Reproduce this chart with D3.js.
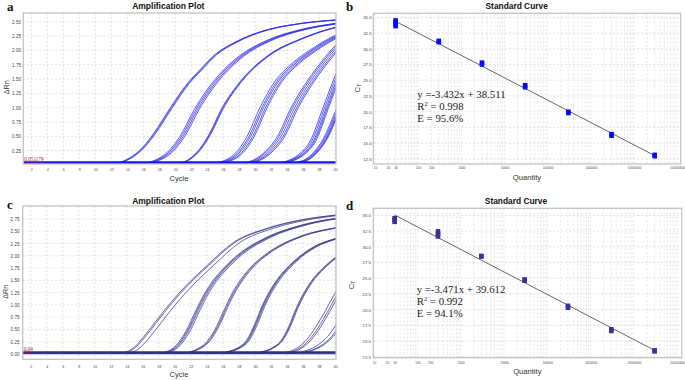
<!DOCTYPE html>
<html><head><meta charset="utf-8">
<script src="https://cdn.jsdelivr.net/npm/d3@7"></script>
<style>body{margin:0;background:#fff}svg{display:block}</style>
</head><body>
<svg id="chart" width="685" height="380"></svg>
<script>
// ---------------- DATA ----------------
const cycleTicks = [2,4,6,8,10,12,14,16,18,20,22,24,26,28,30,32,34,36,38,40];
const ampA_yTicks = [0.25,0.5,0.75,1.0,1.25,1.5,1.75,2.0,2.25,2.5];
const ampC_yTicks = [0.0,0.25,0.5,0.75,1.0,1.25,1.5,1.75,2.0,2.25,2.5,2.75];
const stdYTicks = [12.5,15,17.5,20,22.5,25,27.5,30,32.5,35];
const stdXTicks = [10,20,30,100,200,1000,10000,100000,1000000,10000000,100000000];

const ampA_threshold = 0.051179;
const ampC_threshold = 0.04;

// panel a: leftmost replicate of each dilution, [cycle, ΔRn]
const ampA_curves = [
  [[1,0.025],[12,0.028],[13,0.045],[14,0.1],[15,0.19],[16,0.32],[17.3,0.55],[19.4,1.0],[21.5,1.42],[23.1,1.66],[25,1.93],[27.3,2.13],[29.5,2.27],[31.5,2.36],[35.7,2.47],[40,2.53],[41,2.54]],
  [[1,0.025],[16,0.028],[17,0.06],[18,0.12],[19,0.22],[20.6,0.5],[22.4,0.97],[23.1,1.13],[25.4,1.56],[28,1.9],[31.4,2.17],[35.6,2.36],[40,2.47],[41,2.49]],
  [[1,0.022],[20,0.025],[21,0.05],[22,0.13],[23,0.27],[24.3,0.55],[25.8,0.98],[28.1,1.45],[31.5,1.9],[35.7,2.2],[40,2.4],[41,2.43]],
  [[1,0.022],[24,0.025],[25.5,0.05],[26.5,0.1],[27.5,0.2],[29.0,0.5],[30.6,1.0],[32.7,1.5],[34.2,1.72],[36.7,1.99],[40,2.26],[41,2.32]],
  [[1,0.02],[27.5,0.025],[29,0.05],[30,0.1],[31,0.2],[32.8,0.5],[34.5,1.0],[36.7,1.5],[38.3,1.8],[40,2.08],[41,2.2]],
  [[1,0.02],[32,0.025],[33.5,0.05],[34.5,0.1],[35.6,0.2],[36.9,0.42],[38.5,1.0],[40,1.55],[41,1.85]],
  [[1,0.02],[34,0.025],[35.3,0.05],[36.3,0.1],[37.3,0.22],[38.5,0.45],[40,0.92],[41,1.25]]
];
// cycle offsets of the replicates of each dilution (panel a)
const ampA_shifts = [[0,0.12,0.25],[0,0.2,0.4,0.6],[0,0.1,0.2],[0,0.25,0.45,0.7,0.9],[0,0.2,0.45,0.7,0.9],[0,0.2,0.4,0.55,0.7],[0,0.15,0.3,0.4,0.5]];
const ampA_ntc = [0.02,0.025,0.03];

// panel c
const ampC_curves = [
  [[1,0.015],[13,0.018],[14,0.045],[15,0.15],[16,0.33],[17.5,0.64],[19.5,1.05],[21.5,1.41],[24,1.8],[27.3,2.27],[31.5,2.56],[35.7,2.73],[40,2.83],[41,2.85]],
  [[1,0.015],[18,0.018],[19,0.05],[19.8,0.12],[20.5,0.24],[21.5,0.5],[22.6,0.88],[23.6,1.2],[24.7,1.48],[26,1.73],[27.5,1.97],[31.5,2.38],[35.7,2.62],[40,2.76],[41,2.78]],
  [[1,0.015],[21,0.018],[22,0.05],[23,0.12],[24,0.25],[25.2,0.56],[26.3,0.95],[27.2,1.25],[28.2,1.51],[29.8,1.82],[31.5,2.05],[35.7,2.4],[40,2.57],[41,2.6]],
  [[1,0.015],[25.5,0.018],[26.6,0.05],[27.8,0.12],[29,0.29],[30,0.62],[30.9,0.98],[31.8,1.27],[32.7,1.5],[34.8,1.88],[37.3,2.18],[40,2.35],[41,2.4]],
  [[1,0.015],[29.8,0.018],[31,0.05],[32.1,0.12],[33.2,0.26],[34.2,0.55],[35.2,0.95],[36.9,1.45],[38.5,1.75],[40,1.96],[41,2.08]],
  [[1,0.015],[33,0.018],[34.3,0.05],[35.5,0.15],[36.5,0.3],[37.6,0.55],[38.8,0.88],[40,1.24],[41,1.5]],
  [[1,0.015],[34.5,0.018],[36,0.05],[37.2,0.12],[38.4,0.25],[39.3,0.4],[40,0.56],[41,0.8]]
];
const ampC_shifts = [[0,0.2,0.8],[0,0.15,0.3,0.5],[0,0.15,0.3],[0,0.1,0.2,0.35],[0,0.1,0.2],[0,0.35,0.6],[0,0.5,0.7]];
const ampC_ntc = [0.005,0.012,0.02];

// panel b standard curve
const stdB_quantity = [30,30,30,30,300,300,3000,3000,30000,30000,300000,300000,3000000,3000000,30000000,30000000];
const stdB_ct = [34.5,34.2,33.9,33.6,31.25,31.05,27.8,27.5,24.2,23.9,20.0,19.8,16.45,16.2,13.15,12.95];
const stdB_equation = ["y =-3.432x + 38.511","0.998","E = 95.6%"];

// panel d standard curve
const stdD_quantity = [30,30,30,300,300,300,3000,3000,30000,30000,300000,300000,3000000,3000000,30000000,30000000];
const stdD_ct = [34.55,34.25,33.98,32.45,32.05,31.65,28.55,28.45,24.8,24.6,20.6,20.3,16.85,16.6,13.5,13.35];
const stdD_equation = ["y =-3.471x + 39.612","0.992","E = 94.1%"];

// ---------------- DRAWING ----------------
const svg = d3.select("#chart");
const SANS = "'Liberation Sans', Arial, sans-serif";
const SERIF = "'Liberation Serif', 'Times New Roman', serif";
const GRID = "#d6d6d6";

function styleAxis(sel, size){
  sel.select(".domain").remove();
  sel.selectAll("text").attr("font-size", size).attr("fill", "#444").attr("font-family", SANS);
}

function ampPanel(p){
  const x = d3.scaleLinear().domain([1,40]).range([p.left, p.right]);
  const y = d3.scaleLinear().domain(p.yDomain).range([p.bottom, p.top]);
  const g = svg.append("g");
  const id = "clip" + p.key;
  g.append("clipPath").attr("id", id).append("rect")
    .attr("x", p.left).attr("y", p.top).attr("width", p.right - p.left + 1).attr("height", p.bottom - p.top);
  // grid
  g.append("g").selectAll("line").data(cycleTicks).join("line")
    .attr("x1", d => x(d)).attr("x2", d => x(d)).attr("y1", p.top).attr("y2", p.bottom)
    .attr("stroke", GRID).attr("stroke-width", 0.7).attr("stroke-dasharray", "2,2");
  g.append("g").selectAll("line").data(p.yTicks).join("line")
    .attr("x1", p.left).attr("x2", p.right + 1).attr("y1", d => y(d)).attr("y2", d => y(d))
    .attr("stroke", GRID).attr("stroke-width", 0.7).attr("stroke-dasharray", "2,2");
  // axes
  g.append("g").attr("transform", `translate(0,${p.xLabelY})`)
    .call(d3.axisBottom(x).tickValues(cycleTicks).tickSize(0).tickPadding(0).tickFormat(d3.format("d")))
    .call(a => styleAxis(a, 3.6)).selectAll("text").attr("dy", "0.35em");
  g.append("g").attr("transform", `translate(${p.yLabelRight},0)`)
    .call(d3.axisLeft(y).tickValues(p.yTicks).tickSize(0).tickPadding(0).tickFormat(d3.format(".2f")))
    .call(a => styleAxis(a, 4.6));
  // curves
  const line = d3.line().x(d => x(d[0])).y(d => y(d[1])).curve(d3.curveMonotoneX);
  const cg = g.append("g").attr("clip-path", `url(#${id})`).attr("fill", "none");
  p.ntc.forEach(v => cg.append("path").attr("d", line([[1,v],[40.5,v]]))
    .attr("stroke", p.color).attr("stroke-width", 0.9));
  p.curves.forEach((pts, i) => p.shifts[i].forEach(s => {
    const pp = [[1, pts[0][1]]].concat(pts.slice(1).map(d => [d[0] + s, d[1]]));
    cg.append("path").attr("d", line(pp)).attr("stroke", p.color).attr("stroke-width", 0.85).attr("stroke-opacity", 0.9);
  }));
  cg.append("path").attr("d", line([[1,p.threshold],[40.5,p.threshold]]))
    .attr("stroke", p.thrColor).attr("stroke-width", 1.8);
  g.append("text").attr("x", p.left + 1).attr("y", y(p.threshold) - 1)
    .attr("font-size", 5.2).attr("font-family", SERIF).style("fill", "#a3123f")
    .attr("text-decoration", "underline").text(String(p.threshold));
  // frame
  g.append("rect").attr("x", p.left).attr("y", p.top).attr("width", p.right - p.left + 1).attr("height", p.bottom - p.top)
    .attr("fill", "none").attr("stroke", "#c4c4c4").attr("stroke-width", 1.3);
  // labels
  g.append("text").attr("x", p.titleX).attr("y", p.titleY).attr("text-anchor", "middle")
    .attr("font-family", SANS).attr("font-weight", "bold").attr("font-size", 8.5).style("fill", "#111").text("Amplification Plot");
  g.append("text").attr("x", p.xTitleX).attr("y", p.xTitleY).attr("text-anchor", "middle")
    .attr("font-family", SANS).attr("font-size", 7.6).style("fill", "#333").text("Cycle");
  g.append("text").attr("transform", `translate(${p.yTitleX},${p.yTitleY}) rotate(-90)`).attr("text-anchor", "middle")
    .attr("font-family", SANS).attr("font-size", 7.2).style("fill", "#333").text("ΔRn");
  g.append("text").attr("x", p.letterX).attr("y", p.letterY)
    .attr("font-family", SERIF).attr("font-weight", "bold").attr("font-size", 13).style("fill", "#111").text(p.letter);
}

function stdPanel(p){
  const x = d3.scaleLog().domain([10,1e8]).range([p.x10, p.x1e8]);
  const y = d3.scaleLinear().domain([12.5,35]).range([p.y125, p.y35]);
  const g = svg.append("g");
  // grid
  const minor = [];
  for (let e = 0; e <= 8; e++) for (let k = 1; k <= 9; k++) {
    const v = k * Math.pow(10, e);
    if (x(v) >= p.left && x(v) <= p.right) minor.push(v);
  }
  g.append("g").selectAll("line").data(minor).join("line")
    .attr("x1", d => x(d)).attr("x2", d => x(d)).attr("y1", p.top).attr("y2", p.bottom)
    .attr("stroke", GRID).attr("stroke-width", 0.6).attr("stroke-dasharray", "2,2");
  g.append("g").selectAll("line").data(stdYTicks).join("line")
    .attr("x1", p.left).attr("x2", p.right).attr("y1", d => y(d)).attr("y2", d => y(d))
    .attr("stroke", GRID).attr("stroke-width", 0.7).attr("stroke-dasharray", "2,2");
  // axes
  g.append("g").attr("transform", `translate(0,${p.xLabelY})`)
    .call(d3.axisBottom(x).tickValues(stdXTicks).tickSize(0).tickPadding(0).tickFormat(d => String(d)))
    .call(a => styleAxis(a, 3.1)).selectAll("text").attr("dy", "0.35em");
  g.append("g").attr("transform", `translate(${p.yLabelRight},0)`)
    .call(d3.axisLeft(y).tickValues(stdYTicks).tickSize(0).tickPadding(0).tickFormat(d3.format(".1f")))
    .call(a => styleAxis(a, 4.4));
  // regression line from the points
  const lx = p.q.map(Math.log10);
  const mx = d3.mean(lx), my = d3.mean(p.ct);
  const b = d3.sum(lx, (v, i) => (v - mx) * (p.ct[i] - my)) / d3.sum(lx, v => (v - mx) * (v - mx));
  const a0 = my - b * mx;
  const ext = d3.extent(p.q);
  const line = d3.line().x(d => x(d)).y(d => y(a0 + b * Math.log10(d)));
  g.append("path").attr("d", line(ext)).attr("fill", "none").attr("stroke", "#555").attr("stroke-width", 0.9);
  // points
  const s = 4.6;
  g.append("g").selectAll("rect").data(p.q.map((q, i) => [q, p.ct[i]])).join("rect")
    .attr("x", d => x(d[0]) - s / 2).attr("y", d => y(d[1]) - s / 2).attr("width", s).attr("height", s)
    .attr("fill", p.color);
  // frame
  g.append("rect").attr("x", p.left).attr("y", p.top).attr("width", p.right - p.left).attr("height", p.bottom - p.top)
    .attr("fill", "none").attr("stroke", "#c4c4c4").attr("stroke-width", 1.3);
  // equation
  const eq = g.append("g").attr("font-family", SERIF).attr("font-size", 10.8).style("fill", "#222");
  eq.append("text").attr("x", p.eqX).attr("y", p.eqY).text(p.eq[0]);
  const r = eq.append("text").attr("x", p.eqX).attr("y", p.eqY + p.eqGap);
  r.append("tspan").text("R");
  r.append("tspan").attr("dy", -3.6).attr("font-size", 6.5).text("2");
  r.append("tspan").attr("dy", 3.6).text(" = " + p.eq[1]);
  eq.append("text").attr("x", p.eqX).attr("y", p.eqY + 2 * p.eqGap).text(p.eq[2]);
  // labels
  g.append("text").attr("x", p.titleX).attr("y", p.titleY).attr("text-anchor", "middle")
    .attr("font-family", SANS).attr("font-weight", "bold").attr("font-size", 8.4).style("fill", "#111").text("Standard Curve");
  g.append("text").attr("x", p.xTitleX).attr("y", p.xTitleY).attr("text-anchor", "middle")
    .attr("font-family", SANS).attr("font-size", 7.6).style("fill", "#333").text("Quantity");
  const ct = g.append("text").attr("transform", `translate(${p.yTitleX},${p.yTitleY}) rotate(-90)`).attr("text-anchor", "middle")
    .attr("font-family", SANS).attr("font-size", 7.6).style("fill", "#333");
  ct.append("tspan").text("C");
  ct.append("tspan").attr("font-size", 5).attr("dy", 1).text("T");
  g.append("text").attr("x", p.letterX).attr("y", p.letterY)
    .attr("font-family", SERIF).attr("font-weight", "bold").attr("font-size", 13).style("fill", "#111").text(p.letter);
}

ampPanel({key:"a", letter:"a", letterX:7, letterY:10.5,
  left:23.3, right:335, top:13, bottom:164, yDomain:[0.018,2.652], yTicks:ampA_yTicks,
  xLabelY:169.3, yLabelRight:21, color:"#2a2ae8", thrColor:"#1414f0",
  curves:ampA_curves, shifts:ampA_shifts, ntc:ampA_ntc, threshold:ampA_threshold,
  titleX:168.3, titleY:8.8, xTitleX:179, xTitleY:180.8, yTitleX:8.8, yTitleY:87.3});

ampPanel({key:"c", letter:"c", letterX:7, letterY:208.5,
  left:22.7, right:335, top:206, bottom:359.3, yDomain:[-0.108,3.015], yTicks:ampC_yTicks,
  xLabelY:366.5, yLabelRight:19.5, color:"#3a3a90", thrColor:"#2c2c88",
  curves:ampC_curves, shifts:ampC_shifts, ntc:ampC_ntc, threshold:ampC_threshold,
  titleX:168.3, titleY:203.8, xTitleX:179, xTitleY:377.3, yTitleX:7.8, yTitleY:291.7});

stdPanel({letter:"b", letterX:346, letterY:10.5,
  left:373.3, right:680.7, top:13.3, bottom:164, x10:375, x1e8:677.3, y125:159, y35:17.3,
  xLabelY:167.7, yLabelRight:371.7, color:"#0a0af5",
  q:stdB_quantity, ct:stdB_ct, eq:stdB_equation, eqX:417.3, eqY:98, eqGap:11.9,
  titleX:516.7, titleY:8.8, xTitleX:527, xTitleY:180, yTitleX:360, yTitleY:88.3});

stdPanel({letter:"d", letterX:346, letterY:209.5,
  left:373.3, right:681.7, top:208.3, bottom:357.7, x10:374, x1e8:677.3, y125:356.7, y35:215.4,
  xLabelY:362.7, yLabelRight:371, color:"#333399",
  q:stdD_quantity, ct:stdD_ct, eq:stdD_equation, eqX:416.7, eqY:293, eqGap:12,
  titleX:516, titleY:203.8, xTitleX:527.3, xTitleY:374.3, yTitleX:354.4, yTitleY:285});
</script>
</body></html>
